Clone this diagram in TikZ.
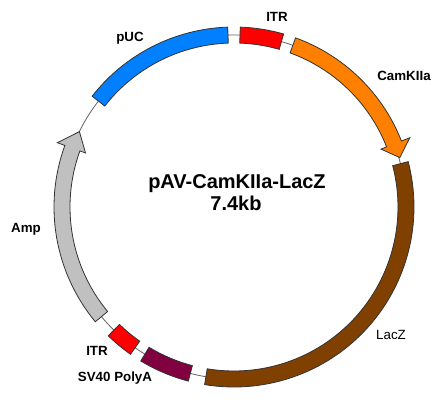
\documentclass[tikz,border=0pt]{standalone}
\usepackage{fontspec}
\setmainfont{Liberation Sans}
\definecolor{pucblue}{RGB}{0,128,255}
\definecolor{itrred}{RGB}{255,0,0}
\definecolor{camorange}{RGB}{255,128,0}
\definecolor{lacbrown}{RGB}{128,64,0}
\definecolor{svmaroon}{RGB}{128,0,64}
\definecolor{ampgray}{RGB}{192,192,192}
\definecolor{ringgray}{RGB}{100,100,100}
\newcommand\bandseg[3]{\filldraw[seg,fill=#3] (#1:164) arc[start angle=#1,end angle=#2,radius=164] -- (#2:180) arc[start angle=#2,end angle=#1,radius=180] -- cycle;}
\begin{document}
\begin{tikzpicture}[x=0.75pt,y=0.75pt,
  seg/.style={draw=black!80, line width=0.6pt, line join=miter},
  lbl/.style={font=\fontsize{10}{12}\selectfont\bfseries, anchor=base, inner sep=0pt},
  lblr/.style={font=\fontsize{10}{12}\selectfont, anchor=base, inner sep=0pt},
  ttl/.style={font=\fontsize{15}{18}\selectfont\bfseries, anchor=base, inner sep=0pt},
]
\useasboundingbox (-234,-194) rectangle (208,207);
\draw[ringgray, line width=0.6pt] (0,0) circle[radius=172];
% segments
\bandseg{92}{142}{pucblue}
\bandseg{74}{88}{itrred}
\bandseg{14.6}{-99.4}{lacbrown}
\bandseg{255.3}{238.8}{svmaroon}
\bandseg{234.9}{225.7}{itrred}
% CamKIIa arrow
\filldraw[seg,fill=camorange] (70:164) arc[start angle=70,end angle=21.5,radius=164] -- (21.5:158) -- (16.6:173) -- (21.5:189) -- (21.5:180) arc[start angle=21.5,end angle=70,radius=180] -- cycle;
% Amp arrow
\filldraw[seg,fill=ampgray] (219.6:164) arc[start angle=219.6,end angle=160,radius=164] -- (160:158) -- (154:172) -- (160:188) -- (160:180) arc[start angle=160,end angle=219.6,radius=180] -- cycle;
% labels
\node[lbl] (puc) at (-104,166) {pUC};
\node[lbl] (itr1) at (43,186) {ITR};
\node[lbl] (cam) at (170,127) {CamKIIa};
\node[lblr] (lacz) at (157,-132) {LacZ};
\node[lbl] (itr2) at (-137,-148) {ITR};
\node[lbl] (sv40) at (-119,-174) {SV40 PolyA};
\node[lbl] (amp) at (-208,-25) {Amp};
\node[ttl] (title) at (3,19) {pAV-CamKIIa-LacZ};
\node[ttl] (size) at (2,-3) {7.4kb};
\end{tikzpicture}
\end{document}
